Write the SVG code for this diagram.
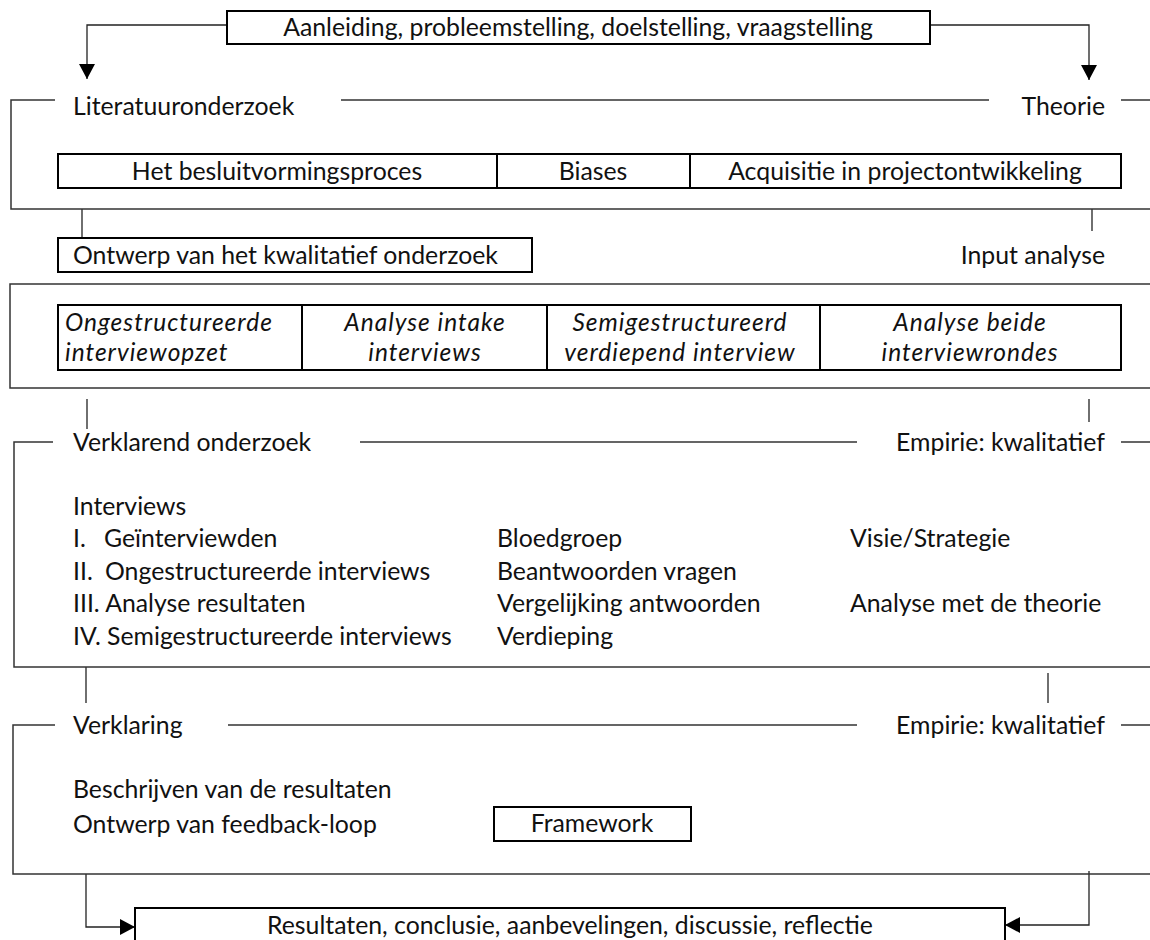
<svg xmlns="http://www.w3.org/2000/svg" width="1150" height="940" viewBox="0 0 1150 940">
<defs>
<style>
text{font-family:Lato,"Open Sans",sans-serif;font-size:24.8px;fill:#111}
.it{font-style:italic;font-size:24.5px;letter-spacing:1px}
.mid{text-anchor:middle}
.end{text-anchor:end}
.box{fill:none;stroke:#000;stroke-width:2}
.frame{fill:none;stroke:#333;stroke-width:1.5}
.conn{fill:none;stroke:#222;stroke-width:1.3}
</style>
<marker id="arr" markerWidth="16" markerHeight="16" refX="15" refY="8" orient="auto" markerUnits="userSpaceOnUse">
<path d="M0,0 L15,8 L0,16 Z" fill="#000"/>
</marker>
</defs>
<rect width="1150" height="940" fill="#fff"/>

<g id="connectors">
<path class="conn" d="M227,25 H87 V79" marker-end="url(#arr)"/>
<path class="conn" d="M930,25 H1089 V80" marker-end="url(#arr)"/>
<path class="conn" d="M82,209 V238"/>
<path class="conn" d="M1092,209 V231"/>
<path class="conn" d="M87,399 V429"/>
<path class="conn" d="M1089,399 V422"/>
<path class="conn" d="M86,667 V703"/>
<path class="conn" d="M1048,673 V703"/>
<path class="conn" d="M86,874 V927 H135" marker-end="url(#arr)"/>
<path class="conn" d="M1089,871 V925 H1005" marker-end="url(#arr)"/>
</g>

<g id="start">
<rect class="box" x="227" y="11" width="703" height="33"/>
<text class="mid" x="578" y="36">Aanleiding, probleemstelling, doelstelling, vraagstelling</text>
</g>

<g id="literatuuronderzoek">
<path class="frame" d="M55,100 H11 V209 H1150 M341,100 H989 M1121,100 H1150"/>
<text x="73" y="115">Literatuuronderzoek</text>
<text class="end" x="1105" y="115">Theorie</text>
<rect class="box" x="58" y="154" width="1063" height="34"/>
<line class="box" x1="497" y1="154" x2="497" y2="188"/>
<line class="box" x1="690" y1="154" x2="690" y2="188"/>
<text class="mid" x="277" y="180">Het besluitvormingsproces</text>
<text class="mid" x="593" y="180">Biases</text>
<text class="mid" x="905" y="180">Acquisitie in projectontwikkeling</text>
</g>

<g id="ontwerp">
<rect class="box" x="58" y="238" width="474" height="34"/>
<text x="73" y="264">Ontwerp van het kwalitatief onderzoek</text>
</g>

<g id="input-analyse">
<text class="end" x="1105" y="264">Input analyse</text>
</g>

<g id="kwalitatief-onderzoek">
<path class="frame" d="M1150,284 H10 V388 H1150"/>
<rect class="box" x="58" y="305" width="1063" height="65"/>
<line class="box" x1="302" y1="305" x2="302" y2="370"/>
<line class="box" x1="547" y1="305" x2="547" y2="370"/>
<line class="box" x1="820" y1="305" x2="820" y2="370"/>
<text class="it" x="65" y="331">Ongestructureerde</text>
<text class="it" x="65" y="361">interviewopzet</text>
<text class="it mid" x="425" y="331">Analyse intake</text>
<text class="it mid" x="425" y="361">interviews</text>
<text class="it mid" x="680" y="331">Semigestructureerd</text>
<text class="it mid" x="680" y="361">verdiepend interview</text>
<text class="it mid" x="970" y="331">Analyse beide</text>
<text class="it mid" x="970" y="361">interviewrondes</text>
</g>

<g id="verklarend-onderzoek">
<path class="frame" d="M53,442 H14 V667 H1150 M360,442 H857 M1121,442 H1150"/>
<text x="73" y="451">Verklarend onderzoek</text>
<text class="end" x="1105" y="451">Empirie: kwalitatief</text>
<text x="73" y="515">Interviews</text>
<text x="73" y="547">I.</text>
<text x="104" y="547">Geïnterviewden</text>
<text x="73" y="580">II.</text>
<text x="105" y="580">Ongestructureerde interviews</text>
<text x="73" y="612">III. Analyse resultaten</text>
<text x="73" y="645">IV. Semigestructureerde interviews</text>
<text x="497" y="547">Bloedgroep</text>
<text x="497" y="580">Beantwoorden vragen</text>
<text x="497" y="612">Vergelijking antwoorden</text>
<text x="497" y="645">Verdieping</text>
<text x="850" y="547">Visie/Strategie</text>
<text x="850" y="612">Analyse met de theorie</text>
</g>

<g id="verklaring">
<path class="frame" d="M55,725 H13 V874 H1150 M228,725 H857 M1121,725 H1150"/>
<text x="73" y="734">Verklaring</text>
<text class="end" x="1105" y="734">Empirie: kwalitatief</text>
<text x="73" y="798">Beschrijven van de resultaten</text>
<text x="73" y="833">Ontwerp van feedback-loop</text>
<rect class="box" x="494" y="807" width="197" height="34"/>
<text class="mid" x="592" y="832">Framework</text>
</g>

<g id="resultaten">
<rect class="box" x="135" y="908" width="870" height="40"/>
<text class="mid" x="570" y="934">Resultaten, conclusie, aanbevelingen, discussie, reflectie</text>
</g>
</svg>
